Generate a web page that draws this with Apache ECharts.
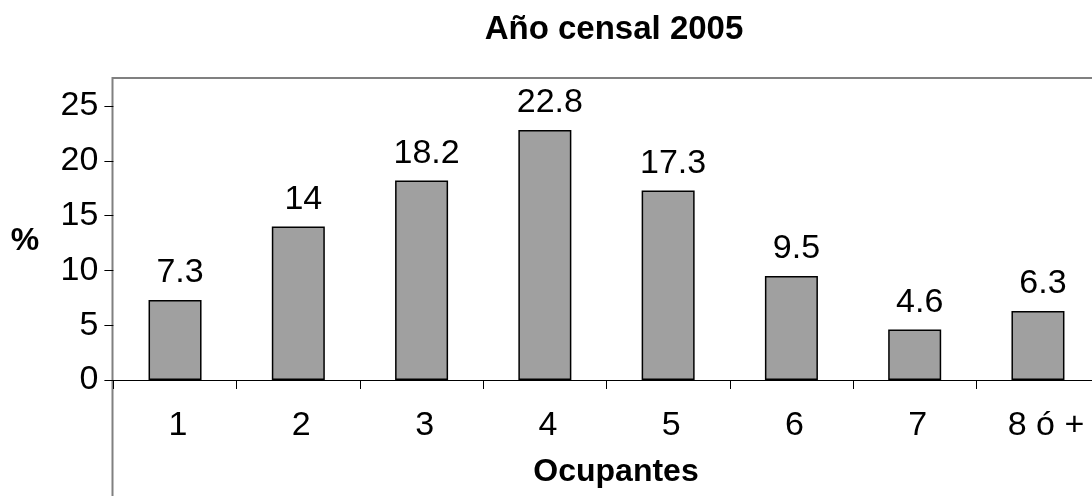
<!DOCTYPE html>
<html>
<head>
<meta charset="utf-8">
<script src="https://cdn.jsdelivr.net/npm/echarts@6/dist/echarts.min.js"></script>
<style>
html,body{margin:0;padding:0;background:#fff;}
#chart{width:1092px;height:496px;}
</style>
</head>
<body>
<div id="chart"></div>
<script>
const titleText = 'Año censal 2005';
const categories = ['1', '2', '3', '4', '5', '6', '7', '8 ó +'];
const percentValues = [7.3, 14, 18.2, 22.8, 17.3, 9.5, 4.6, 6.3];
const yTicks = { min: 0, max: 25, interval: 5 };
const xAxisName = 'Ocupantes';
const yAxisName = '%';

const FONT = '"Liberation Sans", Arial, sans-serif';
const chart = echarts.init(document.getElementById('chart'), null, { renderer: 'canvas' });
chart.setOption({
  animation: false,
  backgroundColor: '#ffffff',
  title: {
    text: titleText,
    left: 609,
    textAlign: 'center',
    top: 8,
    textStyle: { fontFamily: FONT, fontSize: 33, fontWeight: 'bold', color: '#000' }
  },
  grid: { left: 113.4, width: 986.2, top: 106, bottom: 116, containLabel: false, outerBoundsMode: 'none' },
  graphic: [
    {
      type: 'rect',
      shape: { x: 112.5, y: 78, width: 1100, height: 500 },
      style: { fill: 'none', stroke: '#808080', lineWidth: 2 },
      z: 0
    },
    {
      type: 'text',
      x: 25, y: 241,
      style: { text: yAxisName, fontFamily: FONT, fontSize: 32, fontWeight: 'bold', fill: '#000', align: 'center', verticalAlign: 'middle' }
    },
    {
      type: 'text',
      x: 616, y: 472,
      style: { text: xAxisName, fontFamily: FONT, fontSize: 32, fontWeight: 'bold', fill: '#000', align: 'center', verticalAlign: 'middle' }
    }
  ],
  xAxis: {
    type: 'category',
    data: categories,
    axisLine: { show: true, lineStyle: { color: '#000', width: 1 } },
    axisTick: { show: true, length: 9, lineStyle: { color: '#000', width: 1 } },
    axisLabel: {
      interval: 0,
      hideOverlap: false,
      margin: 29,
      fontFamily: FONT, fontSize: 34, color: '#000',
      formatter: function (v, i) { return i === categories.length - 1 ? '{b|' + v + '}' : '{a|' + v + '}'; },
      rich: {
        a: { fontFamily: FONT, fontSize: 34, color: '#000', padding: [0, 0, 0, 6] },
        b: { fontFamily: FONT, fontSize: 34, color: '#000', padding: [0, 0, 0, 16] }
      }
    },
    splitLine: { show: false }
  },
  yAxis: {
    type: 'value',
    min: yTicks.min, max: yTicks.max, interval: yTicks.interval,
    axisLine: { show: false },
    axisTick: { show: true, length: 9, lineStyle: { color: '#000', width: 1 } },
    axisLabel: { margin: 15, fontFamily: FONT, fontSize: 34, color: '#000' },
    splitLine: { show: false }
  },
  series: [{
    type: 'bar',
    data: percentValues,
    barWidth: 53,
    itemStyle: { color: '#a0a0a0', borderColor: '#000', borderWidth: 1.5 },
    label: {
      show: true, position: 'top', distance: 10, offset: [5, 0],
      fontFamily: FONT, fontSize: 34, color: '#000'
    },
    z: 2
  }]
});
</script>
</body>
</html>
